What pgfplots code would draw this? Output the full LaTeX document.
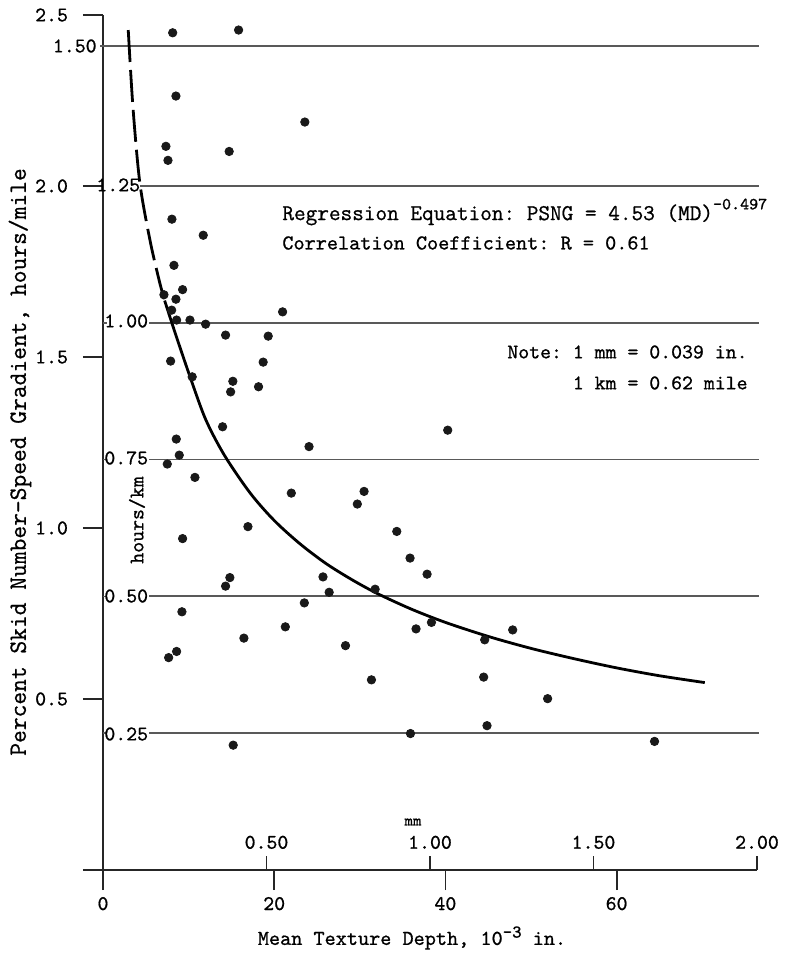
\documentclass[border=0pt]{standalone}
\usepackage{fontspec}
\usepackage{pgfplots}
\pgfplotsset{compat=1.18}
\newfontfamily\tw[FakeBold=0.8]{Latin Modern Mono}
\pgfplotstableread{
x y
8.14 2.448
15.84 2.456
8.52 2.263
23.58 2.187
7.35 2.116
7.59 2.075
14.74 2.101
8.05 1.903
11.71 1.856
8.29 1.768
7.12 1.682
9.30 1.697
8.52 1.669
8.02 1.637
8.60 1.608
10.16 1.608
11.99 1.596
20.98 1.632
14.32 1.564
19.30 1.561
7.90 1.488
18.71 1.485
10.42 1.442
15.17 1.429
14.91 1.398
18.17 1.413
13.97 1.296
8.56 1.260
24.07 1.238
8.91 1.213
7.51 1.187
10.74 1.148
22.00 1.102
30.50 1.107
29.71 1.070
16.93 1.004
9.30 0.969
14.82 0.855
14.32 0.830
25.70 0.857
26.42 0.812
31.79 0.821
23.52 0.781
9.22 0.755
21.30 0.711
16.46 0.678
28.33 0.656
8.60 0.639
7.67 0.621
31.36 0.556
15.21 0.365
40.27 1.286
34.32 0.990
35.87 0.912
37.86 0.865
36.57 0.705
38.37 0.724
44.59 0.673
47.86 0.702
44.47 0.564
51.94 0.501
35.92 0.399
44.86 0.422
64.43 0.376
}\dots
\begin{document}
\frenchspacing
\begin{tikzpicture}
\begin{scope}[x=0.5pt,y=-0.5pt,shift={(-51.5pt,435pt)}]
\useasboundingbox (0,0) rectangle (791,954);
\end{scope}
\begin{axis}[
  at={(0,0)}, anchor=south west,
  scale only axis, width=327pt, height=427.5pt,
  xmin=0, xmax=76.4, ymin=0, ymax=2.5,
  clip=false,
  axis x line=bottom, axis y line=left,
  axis line style={-, line width=1.2pt, black!85},
  xtick={0,20,40,60},
  xticklabels={0,20,40,60},
  ytick={0,0.5,1,1.5,2,2.5},
  yticklabels={,0.5,1.0,1.5,2.0,2.5},
  tick align=outside, major tick length=10pt,
  tick style={line width=0.9pt, black!85},
  tick label style={font=\fontsize{10.4}{12}\selectfont\tw, text=black},
  xticklabel style={yshift=0pt},
  yticklabel style={xshift=-4pt},
]
% hours/km reference lines
\addplot[black!65, line width=0.9pt] coordinates {(-0.3,2.41) (76.6,2.41)};
\addplot[black!65, line width=0.9pt] coordinates {(4.3,2.0) (76.6,2.0)};
\addplot[black!65, line width=0.9pt] coordinates {(5.4,1.6) (76.6,1.6)};
\addplot[black!65, line width=0.9pt] coordinates {(5.4,1.2) (76.6,1.2)};
\addplot[black!65, line width=0.9pt] coordinates {(5.4,0.8) (76.6,0.8)};
\addplot[black!65, line width=0.9pt] coordinates {(5.4,0.4) (76.6,0.4)};
\addplot[black!65, line width=0.8pt] coordinates {(0,1.6) (0.45,1.6)};
\addplot[black!65, line width=0.8pt] coordinates {(0,1.2) (0.45,1.2)};
\addplot[black!65, line width=0.8pt] coordinates {(0,0.8) (0.45,0.8)};
\addplot[black!65, line width=0.8pt] coordinates {(0,0.4) (0.45,0.4)};
% data
\addplot[only marks, mark=*, mark size=2.1pt, black!90] table {\dots};
% regression curve
\addplot[black, line width=1.4pt, smooth, dash pattern=on 16pt off 4pt] coordinates {
(2.95,2.456) (3.5,2.23) (4.3,2.01) (5.5,1.84) (6.6,1.72) (7.2,1.665)};
\addplot[black, line width=1.4pt, smooth] coordinates {
(7.2,1.665) (8.5,1.565) (10.2,1.44) (12,1.317) (14.2,1.212) (17.2,1.102)
(20,1.022) (23,0.954) (26,0.897) (29,0.85) (32,0.809) (36,0.763) (40,0.724)
(45,0.683) (50,0.648) (55,0.618) (60,0.591) (65,0.568) (70.3,0.548)};
\end{axis}
% mm scale
\begin{axis}[
  at={(0,0)}, anchor=north west,
  scale only axis, width=327pt, height=1pt,
  xmin=0, xmax=2, ymin=0, ymax=1,
  axis x line=top, axis y line=none,
  axis line style={-, line width=1.2pt, black!85},
  xtick={0.5,1,1.5,2},
  xticklabels={0.50,1.00,1.50,2.00},
  tick align=outside, major tick length=7pt,
  tick style={line width=0.9pt, black!85},
  tick label style={font=\fontsize{10.4}{12}\selectfont\tw, text=black},
]
\end{axis}
\begin{scope}[x=0.5pt,y=-0.5pt,shift={(-51.5pt,435pt)},
  every node/.style={text=black, inner sep=0pt}]
\node[anchor=east, font=\fontsize{10.4}{12}\selectfont\tw] at (97,46) {1.50};
\node[anchor=west, font=\fontsize{10.4}{12}\selectfont\tw] at (96,185) {1.25};
\node[anchor=west, font=\fontsize{10.4}{12}\selectfont\tw] at (104,321) {1.00};
\node[anchor=west, font=\fontsize{10.4}{12}\selectfont\tw] at (104,458) {0.75};
\node[anchor=west, font=\fontsize{10.4}{12}\selectfont\tw] at (104,596) {0.50};
\node[anchor=west, font=\fontsize{10.4}{12}\selectfont\tw] at (104,734) {0.25};
\node[rotate=90, font=\fontsize{10.4}{12}\selectfont\tw] at (137,520) {hours/km};
\node[rotate=90, font=\fontsize{12.4}{14}\selectfont\tw] at (20,462) {Percent Skid Number-Speed Gradient, hours/mile};
\node[font=\fontsize{10.6}{12}\selectfont\tw] at (412,938) {Mean Texture Depth, 10\raisebox{0.8ex}{\fontsize{9}{10}\selectfont -3} in.};
\node[font=\fontsize{8}{9}\selectfont\tw] at (413,822) {mm};
\node[anchor=west, font=\fontsize{11.3}{13}\selectfont\tw] at (282,212) {Regression Equation: PSNG = 4.53 (MD)\raisebox{1.1ex}{\fontsize{8.5}{9}\selectfont -0.497}};
\node[anchor=west, font=\fontsize{10.6}{13}\selectfont\tw] at (282,243) {Correlation Coefficient: R = 0.61};
\node[anchor=east, font=\fontsize{10.4}{12}\selectfont\tw] at (748,352) {Note: 1 mm = 0.039 in.};
\node[anchor=east, font=\fontsize{10.4}{12}\selectfont\tw] at (748,383) {1 km = 0.62 mile};
\end{scope}
\end{tikzpicture}
\end{document}
